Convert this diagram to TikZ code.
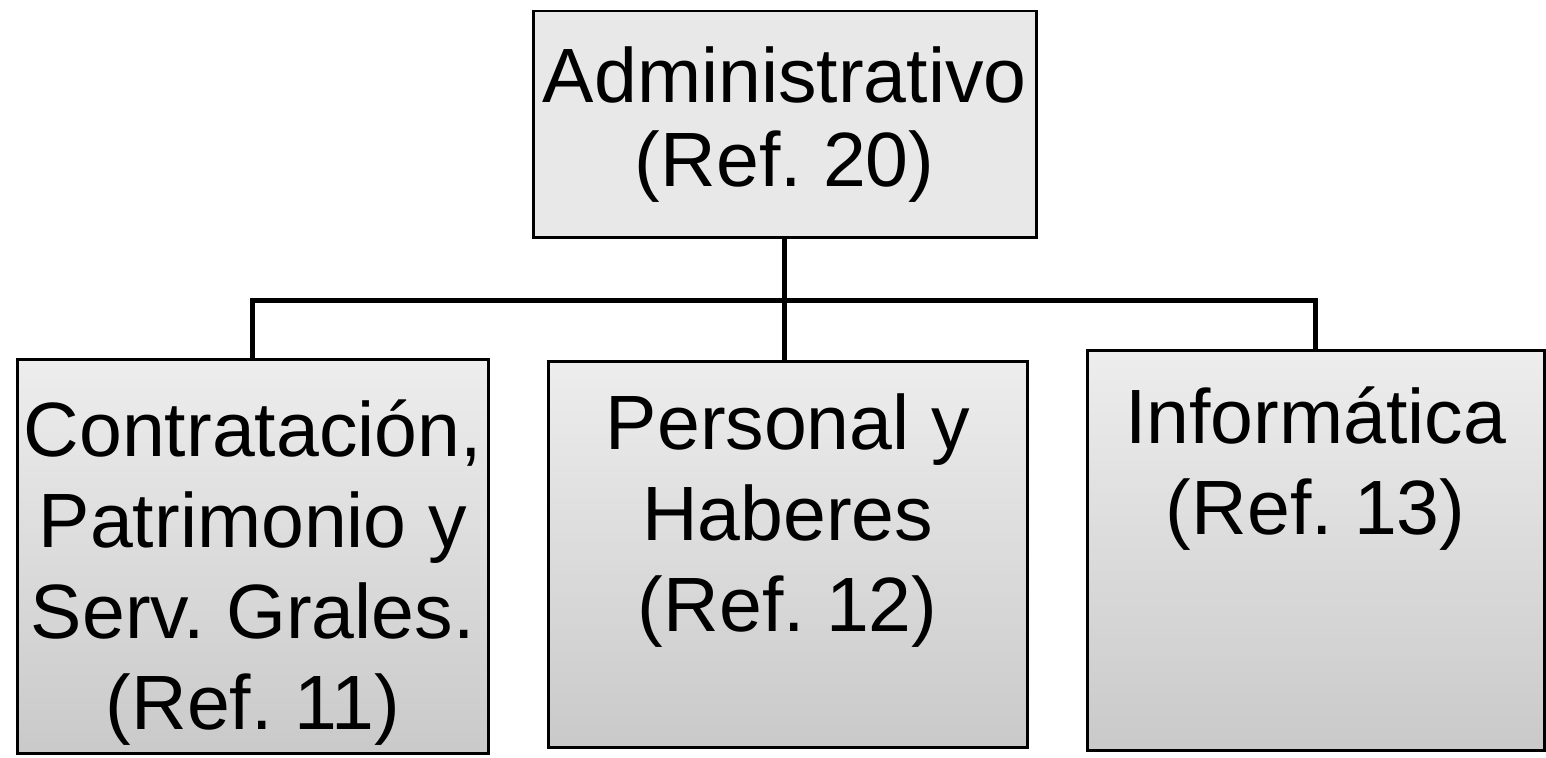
\documentclass[tikz,border=0pt]{standalone}
\usepackage{fontspec}
\setmainfont{Liberation Sans}
\usetikzlibrary{positioning}

\tikzset{
  box/.style={draw, line width=2.5pt, anchor=north west, inner sep=0pt},
  boss/.style={box, fill=gray!18},
  unit/.style={box, top color=gray!14, bottom color=gray!42},
  txt/.style={align=center, font=\fontsize{77}{84}\selectfont\frenchspacing, inner sep=0pt},
  subtxt/.style={txt, font=\fontsize{77}{91}\selectfont\frenchspacing},
  link/.style={line width=5pt}
}

\begin{document}
\begin{tikzpicture}[x=1pt,y=-1pt]
  \useasboundingbox (0,0) rectangle (1546,757);
  % boxes
  \node[boss, minimum width=503pt, minimum height=226pt] (admin) at (532,10) {};
  \node[unit, minimum width=471pt, minimum height=394pt] (contrat) at (16,358) {};
  \node[unit, minimum width=479pt, minimum height=386pt] (personal) at (547,360) {};
  \node[unit, minimum width=457pt, minimum height=400pt] (info) at (1086,349) {};
  % texts
  \node[txt] (admin-t) at (admin) {Administrativo\\(Ref. 20)};
  \node[subtxt, below=42pt of contrat.north] (contrat-t) {Contratación,\\Patrimonio y\\Serv. Grales.\\(Ref. 11)};
  \node[subtxt, below=33pt of personal.north] (personal-t) {Personal y\\Haberes\\(Ref. 12)};
  \node[subtxt, below=38pt of info.north] (info-t) {Informática\\(Ref. 13)};
  % connectors
  \draw[link] (admin.south) -- ++(0,62) coordinate (bus);
  \draw[link] (contrat.north) |- (bus) -| (info.north);
  \draw[link] (bus) -- (bus |- personal.north);
\end{tikzpicture}
\end{document}
